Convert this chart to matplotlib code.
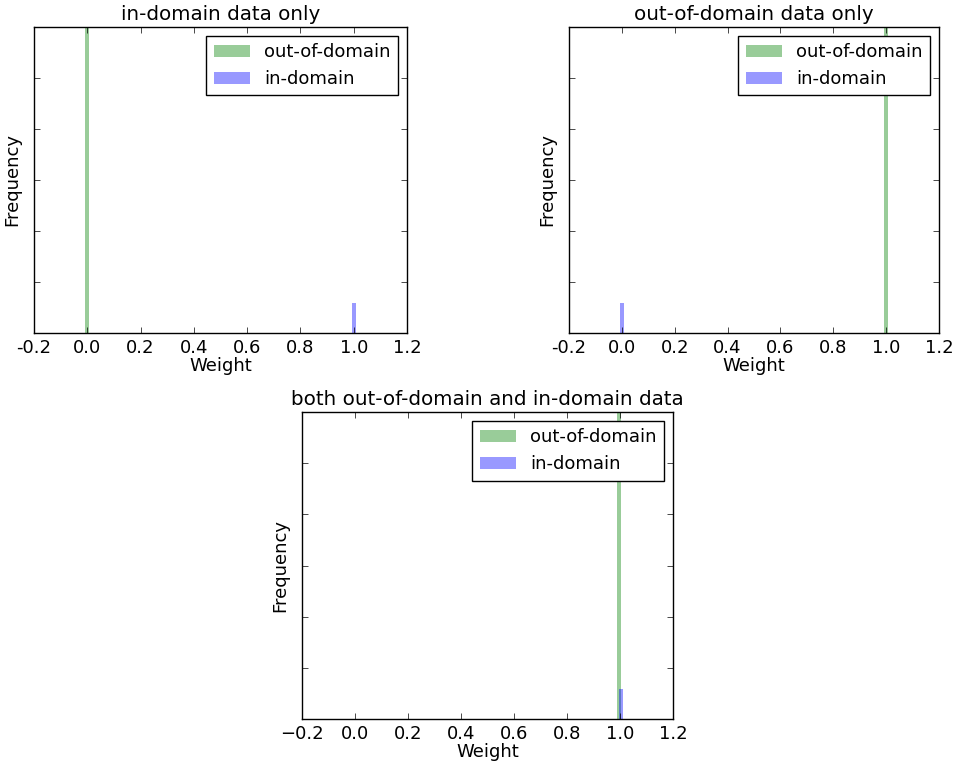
import numpy as np
import matplotlib
matplotlib.use("Agg")
from matplotlib import pyplot as plt
from matplotlib.ticker import FuncFormatter

# pesos (centro de la barra) y frecuencias
titulos = ["in-domain data only", "out-of-domain data only",
           "both out-of-domain and in-domain data"]
peso_out = [0.0, 1.0, 0.996]
freq_out = [60000, 60000, 60000]
peso_in = [1.0, 0.0, 1.003]
freq_in = [5900, 5900, 5900]
etiquetas = ["out-of-domain", "in-domain"]
xticks = [-0.2, 0.0, 0.2, 0.4, 0.6, 0.8, 1.0, 1.2]

plt.style.use("classic")
plt.rcParams["font.size"] = 13
plt.rcParams["figure.facecolor"] = "white"
plt.rcParams["savefig.facecolor"] = "white"

fig = plt.figure(figsize=(9.55, 7.62), dpi=100)
posiciones = [
    [0.0356, 0.5630, 0.3906, 0.4016],
    [0.5958, 0.5630, 0.3874, 0.4016],
    [0.3162, 0.0564, 0.3885, 0.4029],
]

for i, pos in enumerate(posiciones):
    ax = fig.add_axes(pos)
    ax.bar([peso_out[i]], [freq_out[i]], width=0.014, color="g", alpha=0.4,
           linewidth=0, label=etiquetas[0])
    ax.bar([peso_in[i]], [freq_in[i]], width=0.014, color="b", alpha=0.4,
           linewidth=0, label=etiquetas[1])
    ax.set_xlim(-0.2, 1.2)
    ax.set_ylim(0, 60000)
    ax.set_xticks(xticks)
    ax.set_yticks(np.arange(0, 60001, 10000))
    ax.set_yticklabels([])
    if i < 2:
        ax.xaxis.set_major_formatter(FuncFormatter(lambda v, p: f"{v:.1f}"))
    ax.set_title(titulos[i], fontsize=14.3)
    ax.set_xlabel("Weight", labelpad=0)
    ax.set_ylabel("Frequency")
    ax.legend(loc="upper right", fontsize=13)

fig.savefig("out.png", dpi=100)
